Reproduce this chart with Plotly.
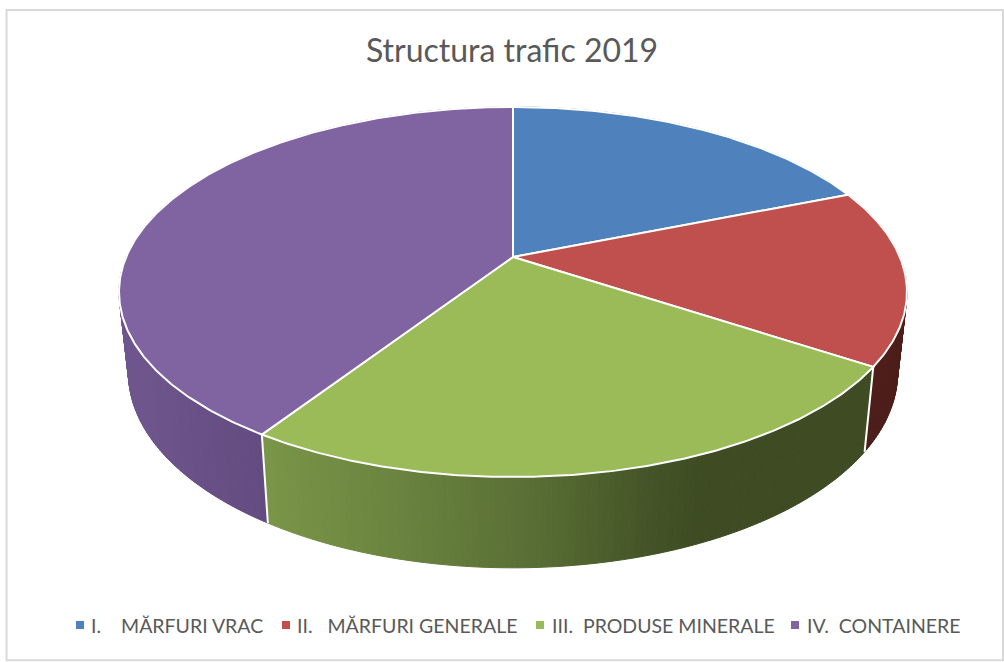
import math
import plotly.graph_objects as go

TITLE = "Structura trafic 2019"
categories = ["I.\u00a0\u00a0\u00a0\u00a0MĂRFURI VRAC", "II.\u00a0\u00a0\u00a0MĂRFURI GENERALE",
              "III.\u00a0\u00a0PRODUSE MINERALE", "IV.\u00a0\u00a0CONTAINERE"]
shares = [18.9, 15.4, 24.9, 40.8]
top_colors = ["#4f81bd", "#c0504d", "#9bbb59", "#8064a2"]

# legend layout (plot coordinates)
KEY_X = [80, 286, 540, 795]
LABEL_X = [90, 296, 551, 806]
LEGEND_Y = 625

# perspective projection of the pie disc into the plot's coordinates
CX, CY = 513.0, 257.0
K = 0.189
A_TOP, B_TOP = 386.9, 178.4
SCALE_LOW, CY_LOW, B_LOW = 0.976, 336.0, 188.0


def project(theta, low=False):
    X, Y = math.sin(theta), math.cos(theta)
    w = 1 + K * Y
    if low:
        return CX + SCALE_LOW * A_TOP * X / w, CY_LOW - B_LOW * Y / w
    return CX + A_TOP * X / w, CY - B_TOP * Y / w


def mix(stops, x):
    if x <= stops[0][0]:
        return stops[0][1]
    for (x0, c0), (x1, c1) in zip(stops, stops[1:]):
        if x <= x1:
            t = (x - x0) / (x1 - x0)
            return tuple(a + (b - a) * t for a, b in zip(c0, c1))
    return stops[-1][1]


wall_shades = [
    [(0, (0x2c, 0x40, 0x60)), (1004, (0x2c, 0x40, 0x60))],
    [(0, (0x4d, 0x1d, 0x1a)), (1004, (0x4d, 0x1d, 0x1a))],
    [(262, (0x7a, 0x96, 0x48)), (400, (0x6a, 0x83, 0x3f)), (540, (0x58, 0x6d, 0x34)),
     (640, (0x46, 0x56, 0x28)), (700, (0x3e, 0x4b, 0x23)), (870, (0x3e, 0x4b, 0x23))],
    [(120, (0x70, 0x56, 0x8e)), (262, (0x63, 0x4c, 0x80))],
]

fig = go.Figure()

# side walls
edges = [0.0]
for s in shares:
    edges.append(edges[-1] + s)
total = edges[-1]
for i, s in enumerate(shares):
    a0 = edges[i] / total * 2 * math.pi
    a1 = edges[i + 1] / total * 2 * math.pi
    n = max(2, int((a1 - a0) / math.radians(0.7)))
    for j in range(n):
        t0 = a0 + (a1 - a0) * j / n
        t1 = a0 + (a1 - a0) * (j + 1) / n
        p = [project(t0), project(t1), project(t1, True), project(t0, True)]
        xs = [q[0] for q in p] + [p[0][0]]
        ys = [q[1] for q in p] + [p[0][1]]
        c = mix(wall_shades[i], sum(xs[:4]) / 4)
        col = "rgb(%d,%d,%d)" % tuple(round(v) for v in c)
        fig.add_trace(go.Scatter(x=xs, y=ys, mode="lines", fill="toself", fillcolor=col,
                                 line=dict(color=col, width=1), showlegend=False, hoverinfo="skip"))

# white seams on walls
for e in edges:
    t = e / total * 2 * math.pi
    p0, p1 = project(t), project(t, True)
    fig.add_trace(go.Scatter(x=[p0[0], p1[0]], y=[p0[1], p1[1]], mode="lines",
                             line=dict(color="white", width=2), showlegend=False, hoverinfo="skip"))

# top face slices
for i, s in enumerate(shares):
    a0 = edges[i] / total * 2 * math.pi
    a1 = edges[i + 1] / total * 2 * math.pi
    n = max(4, int((a1 - a0) / math.radians(0.5)))
    pts = [project(a0 + (a1 - a0) * j / n) for j in range(n + 1)]
    xs = [CX] + [q[0] for q in pts] + [CX]
    ys = [CY] + [q[1] for q in pts] + [CY]
    fig.add_trace(go.Scatter(x=xs, y=ys, mode="lines", fill="toself", fillcolor=top_colors[i],
                             line=dict(color="white", width=2), showlegend=False,
                             name=categories[i], hoverinfo="name"))

# legend keys and labels
annotations = []
for name, col, kx, lx in zip(categories, top_colors, KEY_X, LABEL_X):
    fig.add_trace(go.Scatter(x=[kx], y=[LEGEND_Y], mode="markers", name=name, showlegend=False,
                             marker=dict(symbol="square", size=8, color=col), hoverinfo="name"))
    annotations.append(dict(x=lx, y=LEGEND_Y, xref="x", yref="y", text=name, showarrow=False,
                            xanchor="left", yanchor="middle", xshift=-1,
                            font=dict(family="Lato", size=19.5, color="#595959")))

fig.update_layout(
    width=1004, height=662, autosize=False,
    margin=dict(l=0, r=0, t=0, b=0),
    paper_bgcolor="white", plot_bgcolor="white",
    showlegend=False,
    xaxis=dict(range=[0, 1004], visible=False, fixedrange=True),
    yaxis=dict(range=[662, 0], visible=False, fixedrange=True),
    font=dict(family="Lato", color="#595959"),
    title=dict(text=TITLE, x=0.51, xanchor="center", y=0.924, yanchor="middle",
               font=dict(family="Lato", size=32, color="#595959")),
    annotations=annotations,
    shapes=[dict(type="rect", xref="paper", yref="paper", x0=0.0065, x1=0.999, y0=0.0025, y1=0.985,
                 line=dict(color="#d9d9d9", width=2), fillcolor="rgba(0,0,0,0)", layer="below")],
)

fig.write_html("out.html", config={"displayModeBar": False},
               post_script="document.body.style.margin='0';document.body.style.overflow='hidden';")
